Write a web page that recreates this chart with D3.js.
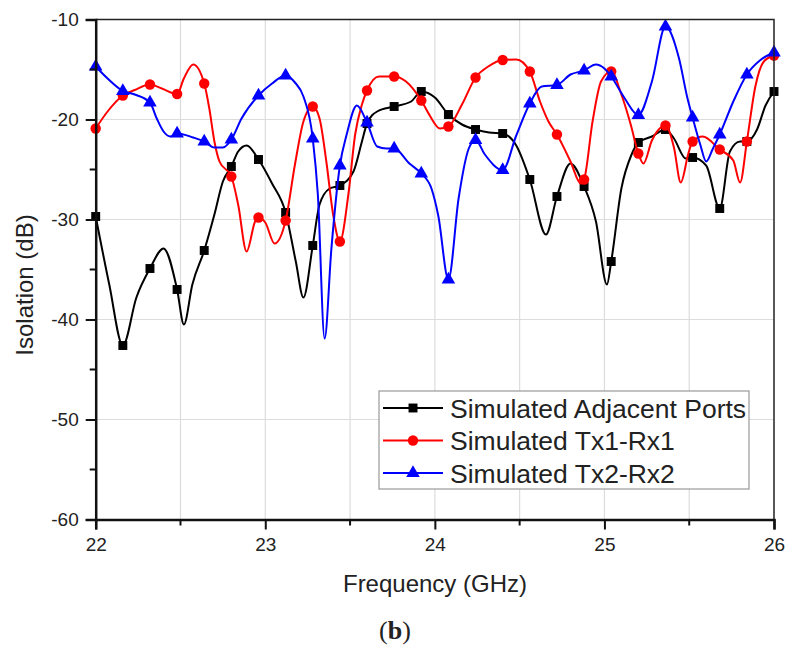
<!DOCTYPE html>
<html>
<head>
<meta charset="utf-8">
<script src="https://cdn.jsdelivr.net/npm/d3@7"></script>
<style>
  body { margin: 0; background: #fff; }
  svg text { font-family: "Liberation Sans", Arial, sans-serif; fill: #222; }
</style>
</head>
<body>
<svg id="chart" width="785" height="646"></svg>
<script>
// frequency (GHz), isolation (dB)
const adjacent = [
  [22.00,-29.7],[22.08,-36.5],[22.16,-42.6],[22.24,-37.8],[22.32,-34.9],[22.40,-32.9],
  [22.48,-37.0],[22.52,-40.5],[22.57,-36.5],[22.64,-33.1],[22.70,-29.5],[22.75,-26.2],
  [22.80,-24.7],[22.84,-23.2],[22.89,-22.6],[22.96,-24.0],[23.04,-26.4],[23.12,-29.3],
  [23.18,-34.2],[23.225,-37.8],[23.28,-32.6],[23.32,-28.5],[23.38,-26.9],[23.44,-26.6],
  [23.52,-25.2],[23.57,-22.2],[23.60,-20.4],[23.66,-19.2],[23.76,-18.7],[23.86,-18.2],
  [23.92,-17.2],[24.00,-17.8],[24.08,-19.5],[24.16,-20.5],[24.24,-21.0],[24.32,-21.3],
  [24.40,-21.4],[24.48,-22.6],[24.56,-26.0],[24.655,-31.5],[24.72,-27.7],[24.80,-24.4],
  [24.88,-26.7],[24.95,-30.2],[25.015,-36.5],[25.04,-34.2],[25.10,-26.9],[25.16,-23.5],
  [25.20,-22.3],[25.28,-21.7],[25.36,-21.0],[25.41,-21.9],[25.48,-23.9],[25.52,-23.8],
  [25.60,-24.6],[25.68,-28.9],[25.74,-23.2],[25.80,-22.2],[25.84,-22.2],[25.90,-21.0],
  [25.95,-18.6],[26.00,-17.2]
];
const tx1rx1 = [
  [22.00,-20.9],[22.07,-19.2],[22.16,-17.6],[22.23,-17.05],[22.32,-16.5],[22.39,-16.9],
  [22.48,-17.45],[22.52,-15.9],[22.575,-14.5],[22.64,-16.4],[22.67,-18.9],[22.70,-22.2],
  [22.73,-24.2],[22.80,-25.7],[22.84,-28.5],[22.89,-33.2],[22.94,-30.2],[22.96,-29.8],
  [23.00,-30.3],[23.055,-32.4],[23.12,-30.1],[23.175,-24.5],[23.225,-20.2],[23.28,-18.7],
  [23.32,-19.9],[23.36,-24.2],[23.40,-29.5],[23.44,-32.2],[23.49,-27.5],[23.53,-21.5],
  [23.57,-18.5],[23.60,-17.1],[23.67,-15.7],[23.76,-15.7],[23.83,-16.2],[23.92,-18.1],
  [23.97,-19.6],[24.03,-20.9],[24.08,-20.7],[24.16,-18.5],[24.24,-15.8],[24.315,-14.7],
  [24.40,-14.05],[24.48,-14.0],[24.56,-15.2],[24.62,-18.2],[24.67,-20.2],[24.72,-21.5],
  [24.80,-24.2],[24.86,-26.4],[24.88,-26.0],[24.93,-20.2],[24.98,-16.2],[25.04,-15.2],
  [25.10,-17.5],[25.155,-20.5],[25.20,-23.4],[25.23,-24.4],[25.28,-22.1],[25.36,-20.6],
  [25.41,-22.8],[25.45,-26.3],[25.495,-23.4],[25.52,-22.2],[25.58,-21.7],[25.68,-23.0],
  [25.76,-24.1],[25.80,-26.3],[25.84,-22.2],[25.89,-16.7],[25.94,-14.2],[26.00,-13.6]
];
const tx2rx2 = [
  [22.00,-14.7],[22.07,-15.9],[22.16,-17.15],[22.23,-17.5],[22.32,-18.3],[22.36,-19.9],
  [22.40,-21.2],[22.44,-21.7],[22.48,-21.4],[22.575,-21.8],[22.64,-22.2],[22.70,-22.8],
  [22.75,-22.8],[22.80,-22.0],[22.86,-19.9],[22.96,-17.6],[23.04,-16.4],[23.12,-15.6],
  [23.175,-16.3],[23.225,-17.7],[23.28,-21.9],[23.31,-27.5],[23.35,-41.9],[23.39,-32.9],
  [23.44,-24.6],[23.48,-21.5],[23.54,-18.6],[23.60,-20.3],[23.66,-22.7],[23.715,-22.9],
  [23.76,-22.9],[23.85,-24.4],[23.92,-25.4],[23.98,-26.9],[24.02,-29.6],[24.08,-36.0],
  [24.14,-27.9],[24.20,-22.9],[24.24,-22.05],[24.295,-23.5],[24.40,-25.05],[24.48,-21.6],
  [24.56,-18.4],[24.63,-16.7],[24.72,-16.55],[24.80,-15.5],[24.88,-15.1],[24.95,-14.5],
  [25.00,-14.9],[25.04,-15.7],[25.12,-17.9],[25.20,-19.55],[25.28,-16.2],[25.36,-10.7],
  [25.44,-13.9],[25.49,-17.9],[25.52,-19.8],[25.565,-22.5],[25.60,-24.2],[25.64,-22.9],
  [25.68,-21.5],[25.76,-18.2],[25.84,-15.5],[25.92,-14.05],[26.00,-13.3]
];

const seriesNames = ["Simulated Adjacent Ports", "Simulated Tx1-Rx1", "Simulated Tx2-Rx2"];
const xTicks = [22, 23, 24, 25, 26];
const yTicks = [-60, -50, -40, -30, -20, -10];
const markerStep = 0.16;

const series = [
  { name: seriesNames[0], data: adjacent, color: "#000", symbol: d3.symbolSquare, size: 80 },
  { name: seriesNames[1], data: tx1rx1, color: "#ff0000", symbol: d3.symbolCircle, size: 85 },
  { name: seriesNames[2], data: tx2rx2, color: "#0000ff", symbol: d3.symbolTriangle, size: 80 }
];

const svg = d3.select("#chart");
const x = d3.scaleLinear().domain([22, 26]).range([95.7, 774]);
const y = d3.scaleLinear().domain([-60, -10]).range([519.5, 19.5]);

// grid
const grid = svg.append("g").attr("stroke", "#dcdcdc").attr("stroke-width", 1.2);
grid.selectAll("line.v").data(d3.range(22.5, 26, 0.5)).join("line")
  .attr("x1", d => x(d)).attr("x2", d => x(d)).attr("y1", y(-10)).attr("y2", y(-60));
grid.selectAll("line.h").data(yTicks.slice(1, -1)).join("line")
  .attr("x1", x(22)).attr("x2", x(26)).attr("y1", d => y(d)).attr("y2", d => y(d));

// curves
const line = d3.line().x(d => x(d[0])).y(d => y(d[1])).curve(d3.curveMonotoneX);
const isMarker = f => {
  const k = (f - 22) / markerStep;
  return Math.abs(k - Math.round(k)) < 1e-6;
};

series.forEach(s => {
  const g = svg.append("g");
  g.append("path").datum(s.data).attr("d", line)
    .attr("fill", "none").attr("stroke", s.color).attr("stroke-width", 2);
  g.selectAll("path.m").data(s.data.filter(d => isMarker(d[0]))).join("path")
    .attr("class", "m")
    .attr("transform", d => `translate(${x(d[0])},${y(d[1])})`)
    .attr("d", d3.symbol().type(s.symbol).size(s.size))
    .attr("fill", s.color);
});

// frame
svg.append("path")
  .attr("d", `M${x(22)},${y(-10)}H${x(26)}V${y(-60)}`)
  .attr("fill", "none").attr("stroke", "#222").attr("stroke-width", 1.5);

// axes
const fmt = d => String(d);
const xAxis = svg.append("g").attr("transform", `translate(0,${y(-60)})`)
  .call(d3.axisBottom(x).tickValues(xTicks).tickFormat(fmt).tickSize(10).tickPadding(8));
xAxis.append("g").selectAll("line").data(d3.range(22.5, 26, 1)).join("line")
  .attr("x1", d => x(d)).attr("x2", d => x(d)).attr("y1", 0).attr("y2", 6)
  .attr("stroke", "#111").attr("stroke-width", 2);

const yAxis = svg.append("g").attr("transform", `translate(${x(22)},0)`)
  .call(d3.axisLeft(y).tickValues(yTicks).tickFormat(fmt).tickSize(10).tickPadding(7));
yAxis.append("g").selectAll("line").data([-55, -45, -35, -25, -15]).join("line")
  .attr("y1", d => y(d)).attr("y2", d => y(d)).attr("x1", 0).attr("x2", -6)
  .attr("stroke", "#111").attr("stroke-width", 2);

[xAxis, yAxis].forEach(a => {
  a.select(".domain").attr("stroke", "#111").attr("stroke-width", 2.5);
  a.selectAll(".tick line").attr("stroke", "#111").attr("stroke-width", 2);
  a.selectAll(".tick text").attr("font-size", 19).attr("fill", "#333")
    .style("font-family", "Liberation Sans, Arial, sans-serif");
});

// axis titles
svg.append("text").attr("x", 435).attr("y", 592).attr("text-anchor", "middle")
  .attr("font-size", 24).text("Frequency (GHz)");
svg.append("text").attr("transform", "translate(33,285) rotate(-90)")
  .attr("text-anchor", "middle").attr("font-size", 24).text("Isolation (dB)");

// caption
svg.append("text").attr("x", 395).attr("y", 639).attr("text-anchor", "middle")
  .attr("font-size", 26).attr("fill", "#111").style("font-family", "Liberation Serif, serif")
  .html('(<tspan font-weight="bold">b</tspan>)');

// legend
const legend = svg.append("g");
legend.append("rect").attr("x", 379).attr("y", 391).attr("width", 370).attr("height", 98)
  .attr("fill", "#fff").attr("stroke", "#999").attr("stroke-width", 1.2);
const rows = legend.selectAll("g.row").data(series).join("g")
  .attr("transform", (d, i) => `translate(0,${408 + i * 32.5})`);
rows.append("line").attr("x1", 383).attr("x2", 443).attr("y1", 0).attr("y2", 0)
  .attr("stroke", d => d.color).attr("stroke-width", 2);
rows.append("path").attr("transform", "translate(413,0)")
  .attr("d", d => d3.symbol().type(d.symbol).size(d.size)())
  .attr("fill", d => d.color);
rows.append("text").attr("x", 450).attr("y", 0).attr("dy", "0.36em")
  .attr("font-size", 26.5).attr("fill", "#111").text(d => d.name);
</script>
</body>
</html>
